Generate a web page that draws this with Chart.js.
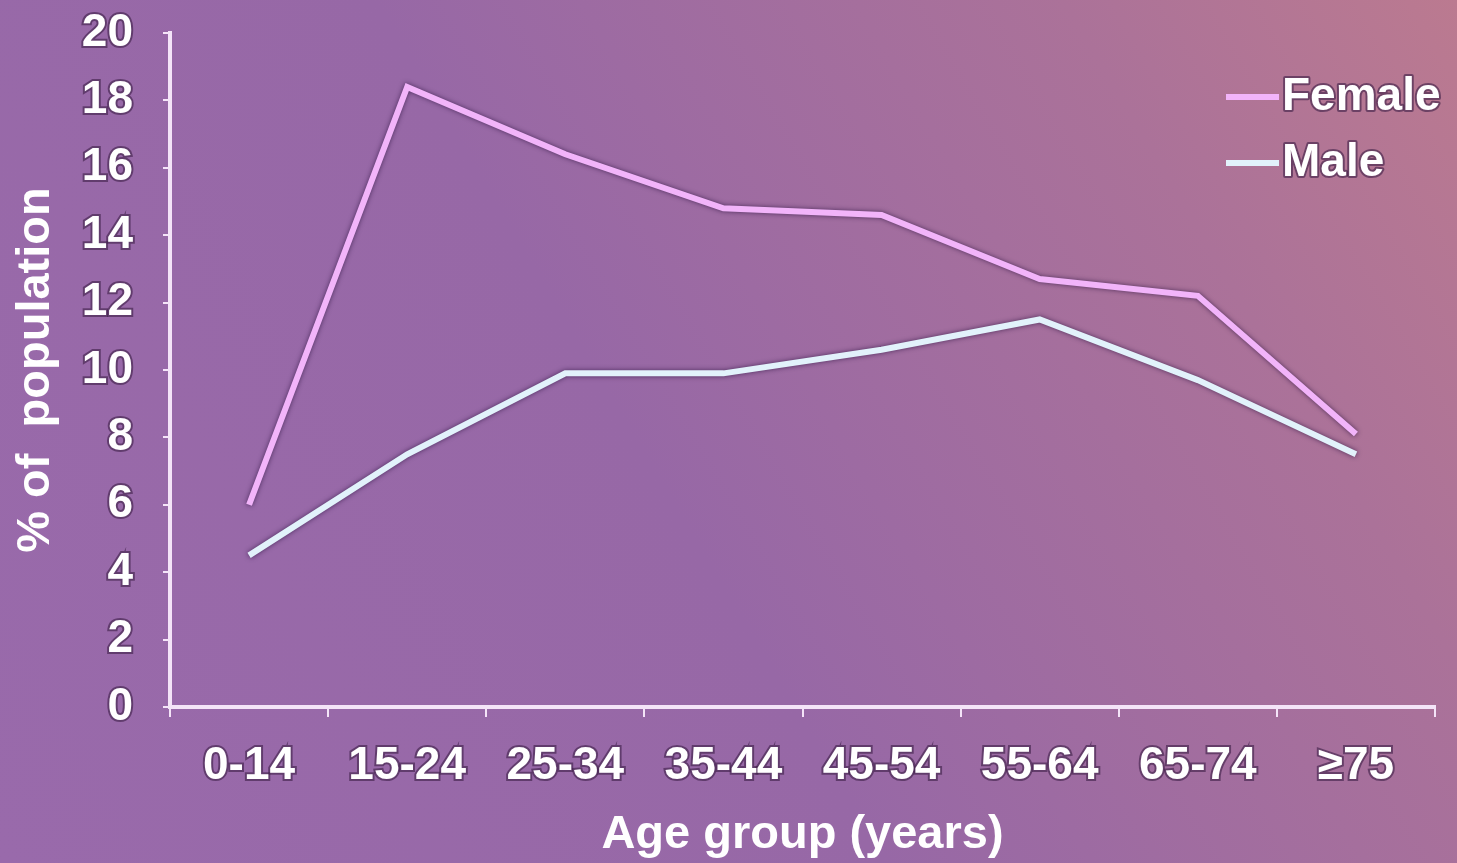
<!DOCTYPE html>
<html>
<head>
<meta charset="utf-8">
<script src="https://cdn.jsdelivr.net/npm/chart.js@4"></script>
<style>
  html, body { margin: 0; padding: 0; background: #9a6aa6; }
  #wrap { width: 1457px; height: 863px; position: relative; }
</style>
</head>
<body>
<div id="wrap"><canvas id="ageChart"></canvas></div>
<script>
const ageGroups = ['0-14', '15-24', '25-34', '35-44', '45-54', '55-64', '65-74', '≥75'];
const femaleValues = [6.0, 18.4, 16.4, 14.8, 14.6, 12.7, 12.2, 8.1];
const maleValues = [4.5, 7.5, 9.9, 9.9, 10.6, 11.5, 9.7, 7.5];
const yTicks = [0, 2, 4, 6, 8, 10, 12, 14, 16, 18, 20];

const FONT = '"Liberation Sans", Arial, sans-serif';

// purple -> pink backdrop
const backdrop = {
    id: 'backdrop',
    beforeDraw(chart) {
        const { ctx, width, height } = chart;
        const g = ctx.createLinearGradient(0, height, width, 0);
        g.addColorStop(0, '#996aab');
        g.addColorStop(0.45, '#9768a6');
        g.addColorStop(0.8, '#ab7299');
        g.addColorStop(1, '#bb7a90');
        ctx.save();
        ctx.fillStyle = g;
        ctx.fillRect(0, 0, width, height);
        ctx.restore();
    }
};

// soft dark halo under the lines
const lineShadow = {
    id: 'lineShadow',
    beforeDatasetsDraw(chart) {
        const ctx = chart.ctx;
        ctx.save();
        ctx.shadowColor = 'rgba(40, 15, 60, 0.7)';
        ctx.shadowBlur = 5;
    },
    afterDatasetsDraw(chart) {
        chart.ctx.restore();
    }
};

// legend drawn inside the plot, top right
const insideLegend = {
    id: 'insideLegend',
    afterDraw(chart) {
        const ctx = chart.ctx;
        const x0 = 1226, x1 = 1279;
        ctx.save();
        ctx.font = 'bold 46px ' + FONT;
        ctx.textBaseline = 'middle';
        ctx.lineJoin = 'round';
        chart.data.datasets.forEach((ds, i) => {
            const y = 97 + i * 66;
            ctx.strokeStyle = ds.borderColor;
            ctx.lineWidth = 6;
            ctx.beginPath();
            ctx.moveTo(x0, y);
            ctx.lineTo(x1, y);
            ctx.stroke();
            ctx.lineWidth = 4;
            ctx.strokeStyle = 'rgba(60, 30, 70, 0.6)';
            ctx.strokeText(ds.label, x1 + 3, y);
            ctx.fillStyle = '#ffffff';
            ctx.fillText(ds.label, x1 + 3, y);
        });
        ctx.restore();
    }
};

const tickFont = { family: FONT, size: 46, weight: 'bold' };

new Chart(document.getElementById('ageChart'), {
    type: 'line',
    data: {
        labels: ageGroups,
        datasets: [{
            label: 'Female',
            data: femaleValues,
            borderColor: '#f2b4fa',
            borderWidth: 6,
            pointRadius: 0,
            tension: 0
        }, {
            label: 'Male',
            data: maleValues,
            borderColor: '#e2f2fb',
            borderWidth: 6,
            pointRadius: 0,
            tension: 0
        }]
    },
    options: {
        responsive: true,
        maintainAspectRatio: false,
        animation: false,
        layout: { padding: { top: 10, right: 22, left: 8, bottom: 0 } },
        plugins: {
            legend: { display: false },
            tooltip: { enabled: false }
        },
        scales: {
            x: {
                offset: true,
                afterFit: scale => { scale.height = 156; },
                grid: {
                    offset: true,
                    drawOnChartArea: false,
                    color: '#f4e4f8',
                    lineWidth: 2,
                    tickLength: 10
                },
                border: { color: '#f4e4f8', width: 4 },
                ticks: {
                    color: '#ffffff',
                    font: tickFont,
                    padding: 22,
                    maxRotation: 0,
                    textStrokeColor: 'rgba(60, 30, 70, 0.6)',
                    textStrokeWidth: 4
                },
                title: {
                    display: true,
                    text: 'Age group (years)',
                    color: '#ffffff',
                    font: { family: FONT, size: 47, weight: 'bold' },
                    padding: { top: 0, bottom: 0 }
                }
            },
            y: {
                min: 0,
                max: 20,
                afterFit: scale => {
                    scale.width = 162;
                    scale.paddingTop = 33;
                },
                afterBuildTicks: scale => { scale.ticks = yTicks.map(v => ({ value: v })); },
                grid: {
                    drawOnChartArea: false,
                    color: '#f4e4f8',
                    lineWidth: 2,
                    tickLength: 7
                },
                border: { color: '#f4e4f8', width: 4 },
                ticks: {
                    color: '#ffffff',
                    font: tickFont,
                    padding: 30,
                    textStrokeColor: 'rgba(60, 30, 70, 0.6)',
                    textStrokeWidth: 4
                },
                title: {
                    display: true,
                    text: '% of  population',
                    color: '#ffffff',
                    font: { family: FONT, size: 47, weight: 'bold' },
                    padding: { top: 0, bottom: 0 }
                }
            }
        }
    },
    plugins: [backdrop, lineShadow, insideLegend]
});
</script>
</body>
</html>
